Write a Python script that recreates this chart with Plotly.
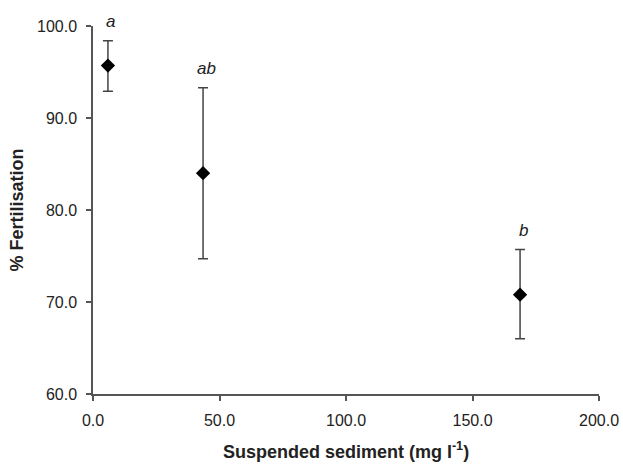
import plotly.graph_objects as go

sediment = [5.9, 43.5, 168.8]
fertilisation = [95.7, 84.0, 70.8]
err_upper = [98.4, 93.3, 75.7]
err_lower = [92.9, 74.7, 66.0]
group_labels = ["a", "ab", "b"]

x_ticks = [0, 50, 100, 150, 200]
y_ticks = [60, 70, 80, 90, 100]

plus = [u - m for u, m in zip(err_upper, fertilisation)]
minus = [m - l for m, l in zip(fertilisation, err_lower)]

FONT = "Liberation Sans, Arial, Helvetica, sans-serif"

fig = go.Figure()
fig.add_trace(go.Scatter(
    x=sediment, y=fertilisation, mode="markers",
    marker=dict(symbol="diamond", size=11, color="black"),
    error_y=dict(type="data", symmetric=False, array=plus, arrayminus=minus,
                 color="#444444", thickness=1.5, width=5),
    showlegend=False,
))

for xv, yv, lab in zip(sediment, err_upper, group_labels):
    fig.add_annotation(x=xv, y=yv, text=f"<i>{lab}</i>", showarrow=False,
                       yanchor="bottom", yshift=8, xshift=3,
                       font=dict(family=FONT, size=17, color="#222"))

axis_font = dict(family=FONT, size=16, color="#222")
title_font = dict(family=FONT, size=18, color="#222")
fig.update_layout(
    width=623, height=464,
    margin=dict(l=93, r=24, t=26, b=70),
    paper_bgcolor="white", plot_bgcolor="white",
    xaxis=dict(range=[0, 200], tickvals=x_ticks, tickformat=".1f",
               showline=True, linecolor="#555", linewidth=1.5,
               ticks="outside", ticklen=5, tickcolor="#555", tickwidth=1.5,
               ticklabelstandoff=6,
               showgrid=False, zeroline=False, tickfont=axis_font, automargin=False,
               title=dict(text="<b>Suspended sediment (mg l<sup>-1</sup>)</b>",
                          font=title_font, standoff=17)),
    yaxis=dict(range=[60, 100], tickvals=y_ticks, tickformat=".1f",
               showline=True, linecolor="#555", linewidth=1.5,
               ticks="outside", ticklen=5, tickcolor="#555", tickwidth=1.5,
               ticklabelstandoff=6,
               showgrid=False, zeroline=False, tickfont=axis_font, automargin=False,
               title=dict(text="<b>% Fertilisation</b>",
                          font=title_font, standoff=9)),
)

fig.write_html("out.html", config={"displayModeBar": False},
               post_script="document.body.style.margin='0';document.body.style.overflow='hidden';")
